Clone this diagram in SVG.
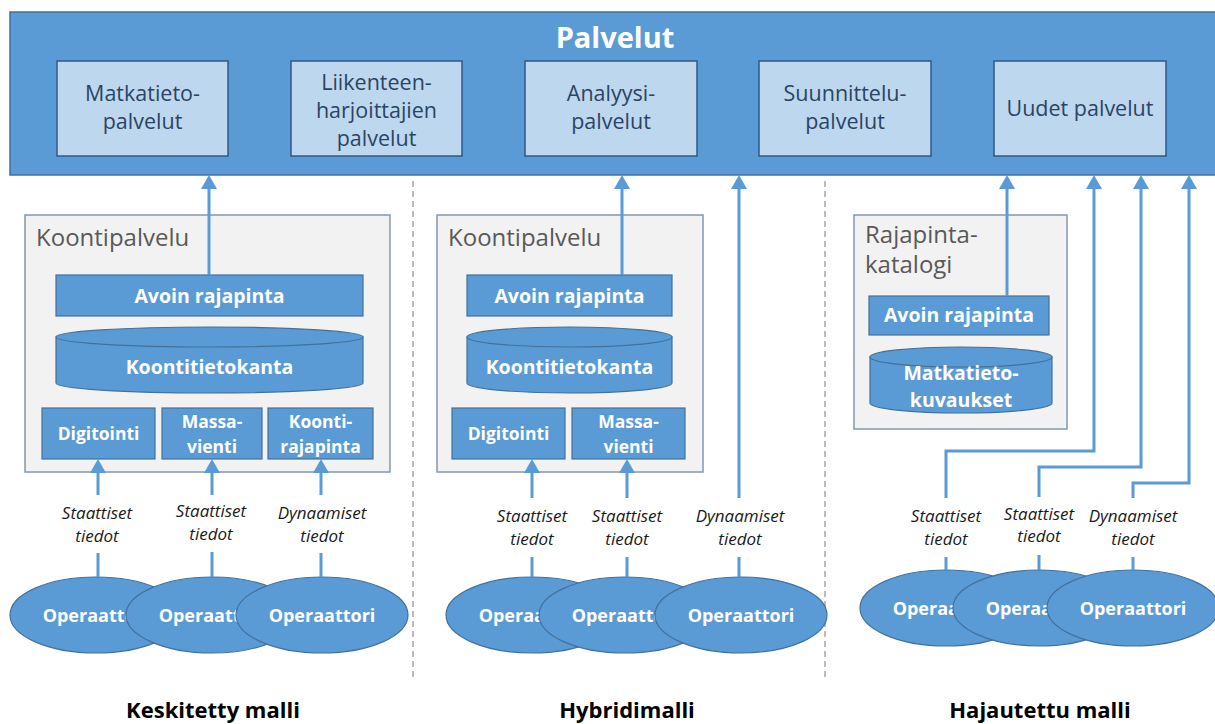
<svg xmlns="http://www.w3.org/2000/svg" width="1215" height="724" viewBox="0 0 1215 724">
<defs>
<marker id="ah" markerUnits="userSpaceOnUse" markerWidth="14" markerHeight="16" refX="10" refY="8" orient="auto" overflow="visible">
<path d="M0,0 L14,8 L0,16 Z" fill="#5b9bd5"/>
</marker>
</defs>
<style>
.bar{fill:#5b9bd5;stroke:#41719c;stroke-width:1.5}
.svc{fill:#bdd7ee;stroke:#2e5a88;stroke-width:1.5}
.svct{font-family:"Open Sans",sans-serif;font-size:21.5px;fill:#2b4464;text-anchor:middle}
.cont{fill:#f2f2f2;stroke:#8497b0;stroke-width:1.5}
.contt{font-family:"Open Sans",sans-serif;font-size:24px;fill:#595959}
.blk{fill:#5b9bd5;stroke:#41719c;stroke-width:1.2}
.bt{font-family:"Open Sans",sans-serif;font-weight:bold;fill:#ffffff;text-anchor:middle}
.lbl{font-family:"Open Sans",sans-serif;font-style:italic;font-size:17px;fill:#1a1a1a;text-anchor:middle}
.ttl{font-family:"Open Sans",sans-serif;font-weight:bold;font-size:22px;fill:#000000;text-anchor:middle}
.ln{fill:none;stroke:#5b9bd5;stroke-width:3}
.div{stroke:#a6a6a6;stroke-width:1.5;stroke-dasharray:6 4}
</style>

<g id="palvelut">
<rect class="bar" x="10" y="12" width="1210" height="163"/>
<text class="bt" x="615" y="48" font-size="29">Palvelut</text>
</g>
<g id="matkatietopalvelut">
<rect class="svc" x="57" y="61" width="171" height="95"/>
<text class="svct" x="142.5" y="101">Matkatieto-</text>
<text class="svct" x="142.5" y="129">palvelut</text>
</g>
<g id="liikenteenharjoittajien">
<rect class="svc" x="291" y="61" width="171" height="95"/>
<text class="svct" x="376.5" y="90">Liikenteen-</text>
<text class="svct" x="376.5" y="118">harjoittajien</text>
<text class="svct" x="376.5" y="146">palvelut</text>
</g>
<g id="analyysipalvelut">
<rect class="svc" x="525" y="61" width="172" height="95"/>
<text class="svct" x="611" y="101">Analyysi-</text>
<text class="svct" x="611" y="129">palvelut</text>
</g>
<g id="suunnittelupalvelut">
<rect class="svc" x="759" y="61" width="172" height="95"/>
<text class="svct" x="845" y="101">Suunnittelu-</text>
<text class="svct" x="845" y="129">palvelut</text>
</g>
<g id="uudetpalvelut">
<rect class="svc" x="994" y="61" width="172" height="95"/>
<text class="svct" x="1080" y="116">Uudet palvelut</text>
</g>

<g id="dividers">
<line class="div" x1="413" y1="181" x2="413" y2="680"/>
<line class="div" x1="825" y1="181" x2="825" y2="680"/>
</g>

<!-- Keskitetty -->
<g id="koontipalvelu1">
<rect class="cont" x="25" y="215" width="365" height="257"/>
<text class="contt" x="36" y="246">Koontipalvelu</text>
</g>
<g id="avoin1">
<rect class="blk" x="56" y="275" width="307" height="41"/>
<text class="bt" x="209.5" y="303" font-size="19.5">Avoin rajapinta</text>
</g>
<g id="koontitietokanta1">
<path class="blk" d="M56,337 V383 A153.5,10 0 0 0 363,383 V337 Z"/>
<ellipse class="blk" cx="209.5" cy="337" rx="153.5" ry="10"/>
<text class="bt" x="209.5" y="374" font-size="19.5">Koontitietokanta</text>
</g>
<g id="digitointi1">
<rect class="blk" x="42" y="408" width="113" height="51"/>
<text class="bt" x="98.5" y="440" font-size="17.5">Digitointi</text>
</g>
<g id="massavienti1">
<rect class="blk" x="162" y="408" width="100" height="51"/>
<text class="bt" x="212" y="428" font-size="17.5">Massa-</text>
<text class="bt" x="212" y="453" font-size="17.5">vienti</text>
</g>
<g id="koontirajapinta1">
<rect class="blk" x="268" y="408" width="105" height="51"/>
<text class="bt" x="320.5" y="428" font-size="17.5">Koonti-</text>
<text class="bt" x="320.5" y="453" font-size="17.5">rajapinta</text>
</g>
<g id="operaattorit1">
<ellipse class="blk" cx="96" cy="615" rx="86" ry="38"/>
<text class="bt" x="96" y="622" font-size="18">Operaattori</text>
<ellipse class="blk" cx="212" cy="615" rx="86" ry="38"/>
<text class="bt" x="212" y="622" font-size="18">Operaattori</text>
<ellipse class="blk" cx="322" cy="615" rx="86" ry="38"/>
<text class="bt" x="322" y="622" font-size="18">Operaattori</text>
</g>
<g id="labels1">
<text class="lbl" x="97" y="519">Staattiset</text>
<text class="lbl" x="97" y="542">tiedot</text>
<text class="lbl" x="211" y="517">Staattiset</text>
<text class="lbl" x="211" y="540">tiedot</text>
<text class="lbl" x="322" y="519">Dynaamiset</text>
<text class="lbl" x="322" y="542">tiedot</text>
<text class="ttl" x="213" y="718">Keskitetty malli</text>
</g>

<!-- Hybridi -->
<g id="koontipalvelu2">
<rect class="cont" x="437" y="215" width="266" height="257"/>
<text class="contt" x="448" y="246">Koontipalvelu</text>
</g>
<g id="avoin2">
<rect class="blk" x="467" y="275" width="205" height="41"/>
<text class="bt" x="569.5" y="303" font-size="19.5">Avoin rajapinta</text>
</g>
<g id="koontitietokanta2">
<path class="blk" d="M467,337 V383 A102.5,10 0 0 0 672,383 V337 Z"/>
<ellipse class="blk" cx="569.5" cy="337" rx="102.5" ry="10"/>
<text class="bt" x="569.5" y="374" font-size="19.5">Koontitietokanta</text>
</g>
<g id="digitointi2">
<rect class="blk" x="452" y="408" width="113" height="51"/>
<text class="bt" x="508.5" y="440" font-size="17.5">Digitointi</text>
</g>
<g id="massavienti2">
<rect class="blk" x="572" y="408" width="113" height="51"/>
<text class="bt" x="628.5" y="428" font-size="17.5">Massa-</text>
<text class="bt" x="628.5" y="453" font-size="17.5">vienti</text>
</g>
<g id="operaattorit2">
<ellipse class="blk" cx="532" cy="615" rx="86" ry="38"/>
<text class="bt" x="532" y="622" font-size="18">Operaattori</text>
<ellipse class="blk" cx="625" cy="615" rx="86" ry="38"/>
<text class="bt" x="625" y="622" font-size="18">Operaattori</text>
<ellipse class="blk" cx="741" cy="615" rx="86" ry="38"/>
<text class="bt" x="741" y="622" font-size="18">Operaattori</text>
</g>
<g id="labels2">
<text class="lbl" x="532" y="522">Staattiset</text>
<text class="lbl" x="532" y="545">tiedot</text>
<text class="lbl" x="627" y="522">Staattiset</text>
<text class="lbl" x="627" y="545">tiedot</text>
<text class="lbl" x="740" y="522">Dynaamiset</text>
<text class="lbl" x="740" y="545">tiedot</text>
<text class="ttl" x="627" y="718">Hybridimalli</text>
</g>

<!-- Hajautettu -->
<g id="rajapintakatalogi">
<rect class="cont" x="854" y="215" width="213" height="214"/>
<text class="contt" x="865" y="243" font-size="22.5">Rajapinta-</text>
<text class="contt" x="865" y="273" font-size="22.5">katalogi</text>
</g>
<g id="avoin3">
<rect class="blk" x="869" y="296" width="180" height="39"/>
<text class="bt" x="959" y="322" font-size="19.5">Avoin rajapinta</text>
</g>
<g id="matkatietokuvaukset">
<path class="blk" d="M870,357 V403 A91,10 0 0 0 1052,403 V357 Z"/>
<ellipse class="blk" cx="961" cy="357" rx="91" ry="10"/>
<text class="bt" x="961" y="380" font-size="19.5">Matkatieto-</text>
<text class="bt" x="961" y="407" font-size="19.5">kuvaukset</text>
</g>
<g id="operaattorit3">
<ellipse class="blk" cx="946" cy="608" rx="86" ry="38"/>
<text class="bt" x="946" y="615" font-size="18">Operaattori</text>
<ellipse class="blk" cx="1039" cy="608" rx="86" ry="38"/>
<text class="bt" x="1039" y="615" font-size="18">Operaattori</text>
<ellipse class="blk" cx="1133" cy="608" rx="86" ry="38"/>
<text class="bt" x="1133" y="615" font-size="18">Operaattori</text>
</g>
<g id="labels3">
<text class="lbl" x="946" y="522">Staattiset</text>
<text class="lbl" x="946" y="545">tiedot</text>
<text class="lbl" x="1039" y="520">Staattiset</text>
<text class="lbl" x="1039" y="542">tiedot</text>
<text class="lbl" x="1133" y="522">Dynaamiset</text>
<text class="lbl" x="1133" y="545">tiedot</text>
<text class="ttl" x="1040" y="718">Hajautettu malli</text>
</g>

<g id="connectors">
<!-- left -->
<line class="ln" x1="209" y1="275" x2="209" y2="179" marker-end="url(#ah)"/>
<line class="ln" x1="98" y1="495" x2="98" y2="463" marker-end="url(#ah)"/>
<line class="ln" x1="212" y1="495" x2="212" y2="463" marker-end="url(#ah)"/>
<line class="ln" x1="321" y1="495" x2="321" y2="463" marker-end="url(#ah)"/>
<line class="ln" x1="98" y1="553" x2="98" y2="577"/>
<line class="ln" x1="212" y1="552" x2="212" y2="577"/>
<line class="ln" x1="321" y1="553" x2="321" y2="577"/>
<!-- middle -->
<line class="ln" x1="622" y1="275" x2="622" y2="179" marker-end="url(#ah)"/>
<line class="ln" x1="739" y1="498" x2="739" y2="179" marker-end="url(#ah)"/>
<line class="ln" x1="532" y1="498" x2="532" y2="463" marker-end="url(#ah)"/>
<line class="ln" x1="627" y1="498" x2="627" y2="463" marker-end="url(#ah)"/>
<line class="ln" x1="532" y1="557" x2="532" y2="577"/>
<line class="ln" x1="627" y1="557" x2="627" y2="577"/>
<line class="ln" x1="739" y1="557" x2="739" y2="577"/>
<!-- right -->
<line class="ln" x1="1007" y1="296" x2="1007" y2="179" marker-end="url(#ah)"/>
<path class="ln" d="M946,498 V451 H1094 V179" marker-end="url(#ah)"/>
<path class="ln" d="M1039,497 V467 H1141 V179" marker-end="url(#ah)"/>
<path class="ln" d="M1133,498 V483 H1189 V179" marker-end="url(#ah)"/>
<line class="ln" x1="946" y1="557" x2="946" y2="570"/>
<line class="ln" x1="1039" y1="555" x2="1039" y2="570"/>
<line class="ln" x1="1133" y1="557" x2="1133" y2="570"/>
</g>
</svg>
